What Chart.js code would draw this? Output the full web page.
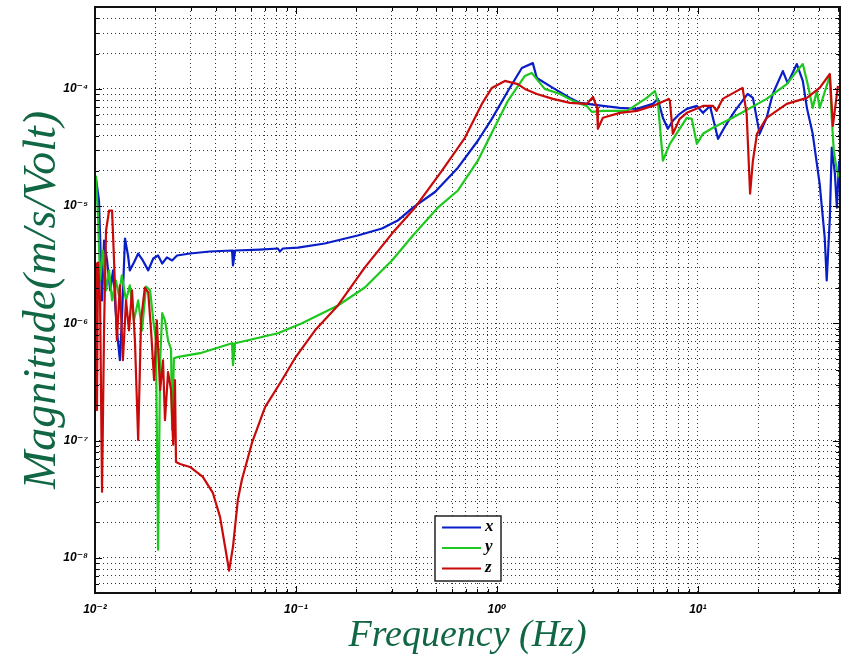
<!DOCTYPE html>
<html><head><meta charset="utf-8">
<script src="https://cdn.jsdelivr.net/npm/chart.js@4"></script>
<style>html,body{margin:0;padding:0;background:#fff}</style>
</head><body>
<canvas id="c" width="849" height="659"></canvas>
<script>
// ---- data ----
const seriesLabels = ['x', 'y', 'z'];
const seriesColors = ['#0a1ec8', '#1ec81e', '#c80a0a'];

const xFreq = [0.0101,0.01047,0.01084,0.01109,0.01148,0.0119,0.0123,0.01285,0.0133,0.0136,0.0141,0.0146,0.0149,0.01563,0.0164,0.0173,0.0184,0.0195,0.0206,0.0216,0.0228,0.0242,0.0256,0.0297,0.0373,0.0481,0.0486,0.0498,0.0662,0.0813,0.0832,0.0861,0.1023,0.139,0.203,0.268,0.321,0.382,0.492,0.640,0.804,0.944,1.135,1.331,1.51,1.58,1.90,2.31,2.59,3.37,4.09,4.97,5.97,6.32,6.70,7.09,7.51,8.13,8.81,9.89,10.6,11.5,12.6,13.9,15.3,17.7,18.8,20.3,22.0,23.6,26.5,28.0,31.1,33.3,34.9,37.3,40.4,42.8,43.8,45.4,46.4,48.1,49.2,50.5];
const xMag = [1.75e-5,1.11e-5,1.57e-6,5.08e-6,3.44e-6,1.91e-6,2.83e-6,8.7e-7,4.84e-7,1.06e-6,5.29e-6,3.79e-6,2.83e-6,3.30e-6,3.94e-6,3.44e-6,2.83e-6,3.57e-6,3.79e-6,3.24e-6,3.65e-6,3.44e-6,3.79e-6,3.94e-6,4.10e-6,4.18e-6,3.12e-6,4.18e-6,4.26e-6,4.35e-6,4.10e-6,4.35e-6,4.43e-6,4.80e-6,5.61e-6,6.44e-6,7.53e-6,9.7e-6,1.32e-5,2.13e-5,3.61e-5,5.55e-5,9.6e-5,1.51e-4,1.66e-4,1.24e-4,1.02e-4,8.38e-5,7.60e-5,7.16e-5,6.89e-5,6.76e-5,7.45e-5,8.22e-5,5.67e-5,4.57e-5,5.34e-5,6.13e-5,6.76e-5,7.16e-5,6.25e-5,7.16e-5,3.75e-5,5.04e-5,6.50e-5,9.06e-5,8.38e-5,4.14e-5,5.67e-5,9.06e-5,1.42e-4,1.12e-4,1.63e-4,1.17e-4,6.89e-5,4.14e-5,1.55e-5,5.40e-6,2.32e-6,7.98e-6,3.15e-5,1.89e-5,9.7e-6,2.44e-5];

const yFreq = [0.0101,0.01035,0.0106,0.01096,0.01135,0.01175,0.01216,0.0127,0.01316,0.0136,0.01427,0.0149,0.01563,0.0164,0.01714,0.01795,0.0188,0.0195,0.0201,0.0206,0.0211,0.0216,0.0223,0.0231,0.0239,0.0242,0.0247,0.0256,0.0333,0.0481,0.0486,0.0498,0.0813,0.1072,0.1618,0.2203,0.3006,0.382,0.508,0.640,0.804,0.944,1.135,1.378,1.49,1.73,2.06,2.39,2.80,2.97,3.37,4.44,5.57,6.11,6.32,6.70,7.26,8.81,9.33,9.89,10.6,11.9,14.9,22.0,27.7,31.1,33.3,35.2,37.3,39.1,40.4,41.9,45.4,46.4,47.5,49.2,50.8];
const yMag = [1.82e-5,8.3e-6,2.32e-6,4.18e-6,1.91e-6,2.83e-6,1.57e-6,2.32e-6,1.73e-6,2.56e-6,1.57e-6,2.11e-6,1.06e-6,1.57e-6,8.7e-7,2.06e-6,1.91e-6,1.06e-6,7.16e-7,1.17e-8,4.84e-7,1.22e-6,1.06e-6,7.16e-7,6.0e-7,1.23e-7,5.04e-7,5.14e-7,5.56e-7,6.76e-7,4.40e-7,6.76e-7,8.22e-7,1.0e-6,1.42e-6,2.02e-6,3.44e-6,5.61e-6,9.7e-6,1.36e-5,2.44e-5,4.22e-5,7.91e-5,1.29e-4,1.37e-4,1.0e-4,9.06e-5,7.91e-5,7.16e-5,6.37e-5,6.50e-5,6.50e-5,8.38e-5,9.6e-5,7.91e-5,2.44e-5,3.40e-5,5.67e-5,5.55e-5,3.40e-5,4.14e-5,4.66e-5,5.67e-5,8.22e-5,1.10e-4,1.42e-4,1.63e-4,1.10e-4,6.89e-5,9.6e-5,6.89e-5,8.38e-5,1.29e-4,5.67e-5,2.96e-5,2.01e-5,1.75e-5];

const zFreq = [0.0101,0.01023,0.01035,0.0106,0.01084,0.01109,0.01135,0.01175,0.01216,0.01244,0.01285,0.0133,0.01377,0.01427,0.01476,0.01528,0.0158,0.0164,0.01695,0.0177,0.0184,0.01901,0.01968,0.0203,0.0211,0.0218,0.0223,0.0231,0.0239,0.0245,0.0250,0.0253,0.0265,0.0297,0.0344,0.0386,0.0419,0.0444,0.0465,0.0486,0.0514,0.0538,0.0604,0.0702,0.0851,0.0989,0.1245,0.1618,0.2203,0.3006,0.391,0.532,0.693,0.842,0.944,1.096,1.271,1.378,1.58,1.90,2.31,2.80,3.01,3.15,3.18,3.37,4.09,4.97,5.97,7.17,7.26,7.51,8.13,8.81,10.6,11.9,12.4,13.3,16.7,17.5,18.2,18.8,19.7,22.0,27.7,34.9,40.4,45.4,47.0,49.8];
const zMag = [3.30e-6,1.82e-7,3.30e-6,1.57e-6,3.65e-8,8.7e-7,6.18e-6,9.16e-6,9.16e-6,3.44e-6,7.16e-7,2.11e-6,4.84e-7,1.57e-6,8.7e-7,1.91e-6,7.16e-7,1.01e-7,1.06e-6,2.02e-6,1.84e-6,8.7e-7,3.27e-7,1.06e-6,2.69e-7,4.84e-7,1.49e-7,3.83e-7,2.69e-7,9.2e-8,3.27e-7,6.56e-8,6.31e-8,5.95e-8,4.89e-8,3.57e-8,2.23e-8,1.24e-8,7.75e-9,1.24e-8,3.12e-8,4.61e-8,9.53e-8,1.93e-7,3.27e-7,5.04e-7,8.71e-7,1.42e-6,3.00e-6,5.83e-6,9.7e-6,2.00e-5,3.83e-5,7.45e-5,1.02e-4,1.17e-4,1.10e-4,1.0e-4,9.06e-5,8.22e-5,7.60e-5,7.45e-5,8.55e-5,6.89e-5,4.57e-5,5.67e-5,6.25e-5,6.50e-5,7.16e-5,8.22e-5,7.91e-5,4.14e-5,5.55e-5,6.25e-5,7.16e-5,7.16e-5,6.50e-5,8.22e-5,1.02e-4,6.13e-5,1.28e-5,2.44e-5,4.14e-5,5.67e-5,7.45e-5,8.38e-5,1.02e-4,1.34e-4,4.84e-5,1.06e-4];

const xRange = [0.01, 51];
const yRange = [5e-9, 5e-4];
const xTickValues = [0.01, 0.1, 1, 10];
const xTickLabels = ['10\u207B\u00B2', '10\u207B\u00B9', '10\u2070', '10\u00B9'];
const yTickValues = [1e-8, 1e-7, 1e-6, 1e-5, 1e-4];
const yTickLabels = ['10\u207B\u2078', '10\u207B\u2077', '10\u207B\u2076', '10\u207B\u2075', '10\u207B\u2074'];
const xTitle = 'Frequency (Hz)';
const yTitle = 'Magnitude(m/s/Volt)';

// ---- helpers ----
function logGrid(min, max) {
  const t = [];
  for (let e = Math.floor(Math.log10(min)); e <= Math.ceil(Math.log10(max)); e++) {
    for (let m = 1; m < 10; m++) {
      const v = parseFloat((m * Math.pow(10, e)).toPrecision(6));
      if (v >= min * 0.9999 && v <= max * 1.0001) t.push({ value: v, major: m === 1 });
    }
  }
  return t;
}
function labelFor(values, labels) {
  return v => { const i = values.findIndex(t => Math.abs(t - v) / t < 1e-6); return i >= 0 ? labels[i] : ''; };
}
const pts = (f, m) => f.map((v, i) => ({ x: v, y: m[i] }));

const decorPlugin = {
  id: 'decor',
  afterDatasetsDraw(chart) {
    const { ctx, chartArea: a } = chart;
    const bx = a.left + 340, by = a.top + 509, bw = 66, bh = 65;
    ctx.save();
    ctx.fillStyle = '#fff';
    ctx.fillRect(bx, by, bw, bh);
    ctx.strokeStyle = '#222'; ctx.lineWidth = 1.5;
    ctx.strokeRect(bx, by, bw, bh);
    chart.data.datasets.forEach((ds, i) => {
      const ly = by + 11.5 + i * 20.5;
      ctx.strokeStyle = ds.borderColor; ctx.lineWidth = 2.2;
      ctx.beginPath(); ctx.moveTo(bx + 7, ly); ctx.lineTo(bx + 46, ly); ctx.stroke();
      ctx.fillStyle = '#000';
      ctx.font = 'italic bold 17px "Liberation Serif", serif';
      ctx.textBaseline = 'middle';
      ctx.fillText(ds.label, bx + 50, ly - 1);
    });
    ctx.restore();
  },
  afterDraw(chart) {
    const { ctx, chartArea: a, scales: { x, y } } = chart;
    ctx.save();
    ctx.strokeStyle = '#000'; ctx.lineWidth = 1;
    const line = (x1, y1, x2, y2) => { ctx.beginPath(); ctx.moveTo(x1, y1); ctx.lineTo(x2, y2); ctx.stroke(); };
    x.ticks.forEach(t => {
      const p = Math.round(x.getPixelForValue(t.value)) + 0.5;
      const L = t.major ? 7 : 4;
      line(p, a.bottom, p, a.bottom - L); line(p, a.top, p, a.top + L);
    });
    y.ticks.forEach(t => {
      const p = Math.round(y.getPixelForValue(t.value)) + 0.5;
      const L = t.major ? 7 : 4;
      line(a.left, p, a.left + L, p); line(a.right, p, a.right - L, p);
    });
    ctx.strokeStyle = '#111'; ctx.lineWidth = 2;
    ctx.strokeRect(a.left, a.top, a.right - a.left, a.bottom - a.top);
    ctx.restore();
  }
};

const tickFont = { family: '"Liberation Sans", "DejaVu Sans", sans-serif', size: 12, style: 'italic', weight: 'bold' };
const gridOpts = { color: 'rgba(0,0,0,0.8)', lineWidth: 1, drawTicks: false };

new Chart(document.getElementById('c'), {
  type: 'scatter',
  data: {
    datasets: [
      { label: seriesLabels[0], data: pts(xFreq, xMag), borderColor: seriesColors[0], order: 3 },
      { label: seriesLabels[1], data: pts(yFreq, yMag), borderColor: seriesColors[1], order: 2 },
      { label: seriesLabels[2], data: pts(zFreq, zMag), borderColor: seriesColors[2], order: 1 }
    ].map(d => Object.assign(d, { showLine: true, pointRadius: 0, borderWidth: 2.2, tension: 0, borderJoinStyle: 'round', backgroundColor: d.borderColor }))
  },
  options: {
    responsive: false,
    animation: false,
    layout: { padding: { top: 7, right: 9, left: 0, bottom: 0 } },
    plugins: { legend: { display: false }, tooltip: { enabled: false } },
    scales: {
      x: {
        type: 'logarithmic', min: xRange[0], max: xRange[1],
        afterBuildTicks: s => { s.ticks = logGrid(xRange[0], xRange[1]); },
        afterFit: s => { s.height = 66; s.paddingLeft = 0; s.paddingRight = 0; },
        grid: gridOpts,
        border: { display: false, dash: [1, 3] },
        ticks: { autoSkip: false, maxRotation: 0, padding: 9, color: '#000', font: tickFont, callback: labelFor(xTickValues, xTickLabels) },
        title: { display: true, text: xTitle, color: '#116644', font: { family: '"Liberation Serif", serif', size: 38, style: 'italic' }, padding: { top: 0, bottom: 0 } }
      },
      y: {
        type: 'logarithmic', min: yRange[0], max: yRange[1],
        afterBuildTicks: s => { s.ticks = logGrid(yRange[0], yRange[1]); },
        afterFit: s => { s.width = 95; s.paddingTop = 0; s.paddingBottom = 0; },
        grid: gridOpts,
        border: { display: false, dash: [1, 3] },
        ticks: { autoSkip: false, padding: 7, color: '#000', font: tickFont, callback: labelFor(yTickValues, yTickLabels) },
        title: { display: true, text: yTitle, color: '#116644', font: { family: '"Liberation Serif", serif', size: 46, style: 'italic' }, padding: { top: 15, bottom: 0 } }
      }
    }
  },
  plugins: [decorPlugin]
});
</script>
</body></html>
